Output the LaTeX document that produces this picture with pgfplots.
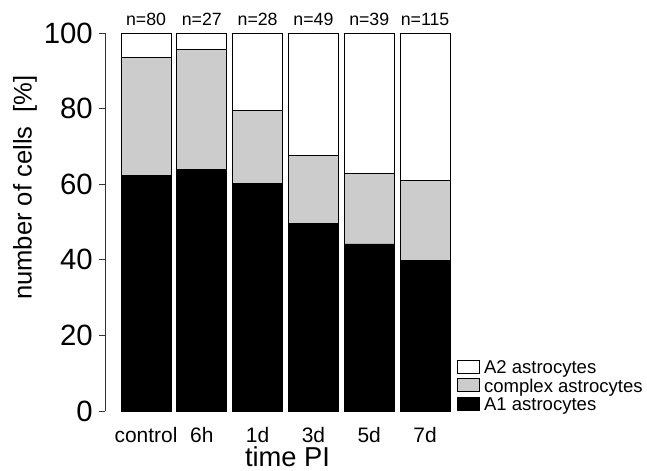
\documentclass[border=0pt]{standalone}
\usepackage{fontspec}
\setmainfont{Liberation Sans}
\usepackage{pgfplots}
\pgfplotsset{compat=1.18}

% shares in percent, stacked from the bottom
\pgfplotstableread{
x  aone  cplx  atwo
0  62.4  31.2  6.4
1  64.0  31.7  4.3
2  60.2  19.4  20.4
3  49.6  17.9  32.5
4  44.2  18.6  37.2
5  39.9  21.1  39.0
}\celltable

\pgfplotsset{boxleg/.style={legend image code/.code={\draw[##1,line width=0.6pt] (0pt,-3pt) rectangle (16.5pt,6.75pt);}}}

\begin{document}
\begin{tikzpicture}
\begin{axis}[
    ybar stacked,
    every axis plot post/.append style={boxleg},
    x=41.85pt, y=2.835pt,
    xmin=-0.735, xmax=5.5,
    ymin=0, ymax=100,
    bar width=37.5pt,
    clip=false,
    axis lines=left,
    axis line style={-, line width=0.7pt, black!80},
    x axis line style={draw=none},
    xtick={0,...,5},
    xticklabels={control,6h,1d,3d,5d,7d},
    xtick style={draw=none},
    ytick={0,20,...,100},
    ytick style={line width=0.7pt, black!80},
    tick align=outside,
    major tick length=4.5pt,
    /pgf/number format/assume math mode=true,
    yticklabel style={font=\fontsize{22}{24}\selectfont, xshift=-1.2pt},
    xticklabel style={font=\fontsize{15.7}{18}\selectfont, anchor=base, yshift=-19.3pt},
    ylabel={number of cells\ \ [\%]},
    ylabel style={font=\fontsize{19.2}{22}\selectfont, at={(axis description cs:-0.230,0.591)}, anchor=center},
    xlabel={time PI},
    xlabel style={font=\fontsize{20.5}{24}\selectfont, at={(axis description cs:0.5246,-0.148)}, anchor=base},
    reverse legend,
    legend style={draw=none, fill=none, inner sep=0pt, row sep=0pt, column sep=2.5pt,
        at={(axis cs:5.57,-1.3)}, anchor=south west,
        font=\fontsize{13.9}{16}\selectfont,
        nodes={inner sep=0.6pt, text height=9.6pt, text depth=3pt}},
    legend cell align=left,
]
\addplot[fill=black, draw=black, line width=0.6pt] table[x=x, y=aone] {\celltable};
\addplot[fill=black!20, draw=black, line width=0.6pt] table[x=x, y=cplx] {\celltable};
\addplot[fill=white, draw=black, line width=0.6pt] table[x=x, y=atwo] {\celltable};
\legend{A1 astrocytes, complex astrocytes, A2 astrocytes}

\foreach \i/\n in {0/80,1/27,2/28,3/49,4/39,5/115}{
  \edef\tmp{\noexpand\node[anchor=base, inner sep=0pt, font=\noexpand\fontsize{13.3}{15}\noexpand\selectfont] at (axis cs:\i,102) {n=\n};}
  \tmp
}
\coordinate (bl) at (axis cs:-2.617,-15.87);
\coordinate (tr) at (axis cs:8.978,108.73);
\end{axis}
\pgfresetboundingbox
\useasboundingbox (bl) rectangle (tr);
\end{tikzpicture}
\end{document}
